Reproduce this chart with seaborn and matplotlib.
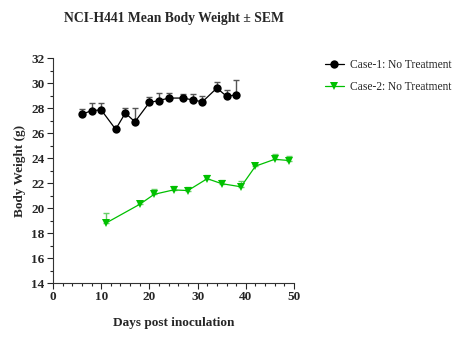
import matplotlib
matplotlib.use("Agg")
import matplotlib.pyplot as plt
import seaborn as sns
import numpy as np
import pandas as pd
from matplotlib.ticker import MultipleLocator

days1 = [6, 8, 10, 13, 15, 17, 20, 22, 24, 27, 29, 31, 34, 36, 38]
mean1 = [27.5, 27.8, 27.85, 26.3, 27.6, 26.9, 28.45, 28.6, 28.8, 28.8, 28.65, 28.5, 29.6, 28.95, 29.05]
sem1 = [0.45, 0.6, 0.55, 0.2, 0.4, 1.1, 0.4, 0.6, 0.37, 0.35, 0.45, 0.45, 0.5, 0.5, 1.2]

days2 = [11, 18, 21, 25, 28, 32, 35, 39, 42, 46, 49]
mean2 = [18.8, 20.3, 21.1, 21.45, 21.4, 22.35, 21.95, 21.7, 23.35, 23.9, 23.8]
sem2 = [0.78, 0.3, 0.43, 0.35, 0.3, 0.3, 0.27, 0.43, 0.15, 0.4, 0.36]

label1 = "Case-1: No Treatment"
label2 = "Case-2: No Treatment"
title = "NCI-H441 Mean Body Weight \u00b1 SEM"
xlabel = "Days post inoculation"
ylabel = "Body Weight (g)"

sns.set_style("ticks")
plt.rcParams['font.family'] = ['Liberation Serif', 'DejaVu Serif']

df = pd.concat([
    pd.DataFrame({"day": days1, "weight": mean1, "group": label1}),
    pd.DataFrame({"day": days2, "weight": mean2, "group": label2}),
])

fig = plt.figure(figsize=(4.59, 3.52), dpi=100)
ax = fig.add_axes([0.1155, 0.196, 0.525, 0.639])

c1 = "black"
c2 = "#00c000"

ax.errorbar(days1, mean1, yerr=[np.zeros(len(sem1)), sem1], fmt="none",
            ecolor="#555555", elinewidth=1, capsize=2.5, capthick=1, zorder=2)
ax.errorbar(days2, mean2, yerr=[np.zeros(len(sem2)), sem2], fmt="none",
            ecolor="#66d066", elinewidth=1, capsize=2.5, capthick=1, zorder=2)

sns.lineplot(data=df, x="day", y="weight", hue="group", style="group",
             palette={label1: c1, label2: c2},
             markers={label1: "o", label2: "v"}, dashes=False,
             markersize=6, markeredgewidth=0, linewidth=0.9, ax=ax, zorder=3)

ax.set_xlim(0, 50)
ax.set_ylim(14, 32)
ax.xaxis.set_major_locator(MultipleLocator(10))
ax.xaxis.set_minor_locator(MultipleLocator(2))
ax.yaxis.set_major_locator(MultipleLocator(2))
ax.yaxis.set_minor_locator(MultipleLocator(1))
ax.tick_params(which="major", length=4, width=0.8, labelsize=9.5, pad=2)
ax.tick_params(which="minor", length=2.5, width=0.8)
for lab in ax.get_xticklabels() + ax.get_yticklabels():
    lab.set_fontweight("bold")
for s in ["top", "right"]:
    ax.spines[s].set_visible(False)
for s in ["left", "bottom"]:
    ax.spines[s].set_linewidth(0.8)
    ax.spines[s].set_color("#333333")

ax.set_xlabel(xlabel, fontsize=9.5, fontweight="bold", labelpad=10)
ax.set_ylabel(ylabel, fontsize=9.5, fontweight="bold", labelpad=4)
ax.set_title(title, fontsize=9.8, fontweight="bold", pad=26)

leg = ax.legend(loc="upper left", bbox_to_anchor=(1.11, 1.015), frameon=False,
                fontsize=8.3, handlelength=1.6, handletextpad=0.6, labelspacing=0.8,
                borderaxespad=0)

fig.savefig("out.png", dpi=100)
